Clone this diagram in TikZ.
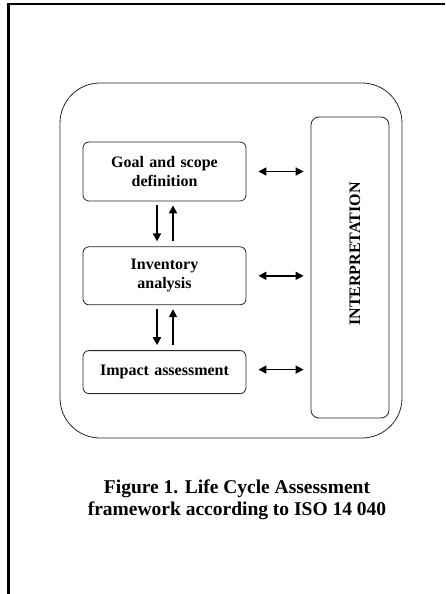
\documentclass[tikz,border=0pt]{standalone}
\usepackage{fontspec}
\setmainfont{Liberation Serif}
\usetikzlibrary{arrows.meta, positioning}

\begin{document}
\begin{tikzpicture}[
    x=1pt, y=-1pt,
    node distance=45pt,
    phase/.style={rectangle, rounded corners=6pt, minimum width=163pt, text width=155pt, align=center, inner sep=0pt, font=\fontsize{16}{19}\selectfont\bfseries, draw=black!85, line width=0.8pt},
    arr/.style={-{Triangle[length=8pt, width=8pt]}, line width=1.6pt},
    dbl/.style={{Triangle[length=8pt, width=8pt]}-{Triangle[length=8pt, width=8pt]}, line width=1.6pt},
]
\useasboundingbox (0,0) rectangle (445,594);

% Page border
\draw[line width=2.5pt] (8.5,594) -- (8.5,4) -- (445,4);

% Framework
\node[rectangle, rounded corners=40pt, minimum width=342pt, minimum height=355pt, draw=black!85, line width=0.8pt] (lca) at (231,260.5) {};

% Phases
\node[phase, minimum height=59pt] (goal) at (164.5,171.5) {Goal and scope\\definition};
\node[phase, minimum height=58pt, below=of goal] (inventory) {Inventory\\analysis};
\node[phase, minimum height=43pt, below=of inventory] (impact) {Impact assessment};

% Interpretation
\node[rectangle, rounded corners=8pt, minimum width=78pt, minimum height=301pt, draw=black!85, line width=0.8pt] (interp) at (350,267.5) {};
\node[rotate=90, font=\fontsize{16}{19}\selectfont\bfseries] (interplabel) at (355,254) {INTERPRETATION};

% Arrows
\draw[arr, shorten <=4pt, shorten >=5pt] ([xshift=-7.5pt]goal.south) -- ([xshift=-7.5pt]inventory.north);
\draw[arr, shorten <=5pt, shorten >=4pt] ([xshift=8.5pt]inventory.north) -- ([xshift=8.5pt]goal.south);
\draw[arr, shorten <=4pt, shorten >=5pt] ([xshift=-7.5pt]inventory.south) -- ([xshift=-7.5pt]impact.north);
\draw[arr, shorten <=5pt, shorten >=4pt] ([xshift=8.5pt]impact.north) -- ([xshift=8.5pt]inventory.south);
\draw[dbl, shorten <=12pt, shorten >=7pt] (goal.east) -- (goal.east -| interp.west);
\draw[dbl, shorten <=12pt, shorten >=7pt] (inventory.east) -- (inventory.east -| interp.west);
\draw[dbl, shorten <=12pt, shorten >=7pt] ([yshift=2.5pt]impact.east) -- ([yshift=2.5pt]impact.east -| interp.west);

% Caption
\node[font=\fontsize{19.5}{22}\selectfont\bfseries, align=center] (caption) at (237,500) {Figure 1. Life Cycle Assessment\\framework according to ISO 14 040};

\end{tikzpicture}
\end{document}
